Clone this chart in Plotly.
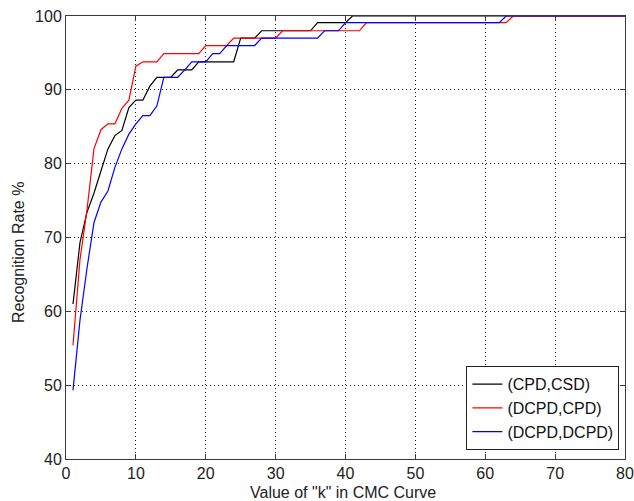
import plotly.graph_objects as go

k_values = list(range(1, 81))

cpd_csd = [61.0, 69.3, 73.4, 76.0, 79.0, 82.0, 83.8, 84.5, 87.6, 88.6,
           88.6, 90.5, 91.7, 91.7, 91.7, 92.7, 92.7, 92.7, 93.8, 93.8,
           93.8, 93.8, 93.8, 93.8, 97.0, 97.0, 97.0, 98.0, 98.0, 98.0,
           98.0, 98.0, 98.0, 98.0, 98.0, 99.1, 99.1, 99.1, 99.1, 99.1,
           100, 100, 100, 100, 100, 100, 100, 100, 100, 100,
           100, 100, 100, 100, 100, 100, 100, 100, 100, 100,
           100, 100, 100, 100, 100, 100, 100, 100, 100, 100,
           100, 100, 100, 100, 100, 100, 100, 100, 100, 100]

dcpd_cpd = [55.4, 67.0, 73.7, 82.0, 84.6, 85.4, 85.4, 87.5, 88.6, 93.2,
            93.8, 93.8, 93.8, 94.9, 94.9, 94.9, 94.9, 94.9, 94.9, 96.0,
            96.0, 96.0, 96.0, 97.0, 97.0, 97.0, 97.0, 97.0, 97.0, 97.0,
            98.0, 98.0, 98.0, 98.0, 98.0, 98.0, 98.0, 98.0, 98.0, 98.0,
            98.0, 98.0, 99.1, 99.1, 99.1, 99.1, 99.1, 99.1, 99.1, 99.1,
            99.1, 99.1, 99.1, 99.1, 99.1, 99.1, 99.1, 99.1, 99.1, 99.1,
            99.1, 99.1, 99.1, 100, 100, 100, 100, 100, 100, 100,
            100, 100, 100, 100, 100, 100, 100, 100, 100, 100]

dcpd_dcpd = [49.3, 58.8, 65.8, 72.0, 74.8, 76.3, 79.5, 82.0, 84.0, 85.4,
             86.5, 86.5, 87.8, 91.7, 91.7, 91.7, 92.7, 93.8, 93.8, 93.8,
             94.9, 94.9, 96.0, 96.0, 96.0, 96.0, 96.0, 97.0, 97.0, 97.0,
             97.0, 97.0, 97.0, 97.0, 97.0, 97.0, 98.0, 98.0, 98.0, 99.1,
             99.1, 99.1, 99.1, 99.1, 99.1, 99.1, 99.1, 99.1, 99.1, 99.1,
             99.1, 99.1, 99.1, 99.1, 99.1, 99.1, 99.1, 99.1, 99.1, 99.1,
             99.1, 99.1, 100, 100, 100, 100, 100, 100, 100, 100,
             100, 100, 100, 100, 100, 100, 100, 100, 100, 100]

series_names = ["(CPD,CSD)", "(DCPD,CPD)", "(DCPD,DCPD)"]
series_colors = ["#000000", "#ff0000", "#0000ff"]
series_values = [cpd_csd, dcpd_cpd, dcpd_dcpd]

x_ticks = [0, 10, 20, 30, 40, 50, 60, 70, 80]
y_ticks = [40, 50, 60, 70, 80, 90, 100]

x_title = 'Value of "k" in CMC Curve'
y_title = "Recognition Rate %"

font_family = "Liberation Sans, Arial, Helvetica, sans-serif"
text_color = "#222222"

fig = go.Figure()
for name, color, vals in zip(series_names, series_colors, series_values):
    fig.add_trace(go.Scatter(x=k_values, y=vals, mode="lines", name=name,
                             line=dict(color=color, width=1.2)))

axis_common = dict(
    showline=True, linecolor="#3a3a3a", linewidth=1, mirror="ticks",
    ticks="inside", ticklen=5, tickcolor="#3a3a3a",
    showgrid=True, gridcolor="#222222", gridwidth=1, griddash="1px,3px",
    zeroline=False, automargin=False, ticklabeloverflow="allow",
    tickfont=dict(family=font_family, size=16, color=text_color),
)

fig.update_xaxes(range=[0, 80], tickvals=x_ticks, **axis_common)
fig.update_yaxes(range=[40, 100], tickvals=y_ticks, **axis_common)

fig.add_annotation(text=x_title, xref="paper", yref="paper", x=0.495, y=0,
                   yshift=-33, xanchor="center", yanchor="middle", showarrow=False,
                   font=dict(family=font_family, size=16, color=text_color))
fig.add_annotation(text=y_title, xref="paper", yref="paper", x=0, y=0.465,
                   xshift=-48, xanchor="center", yanchor="middle", showarrow=False,
                   textangle=-90,
                   font=dict(family=font_family, size=16, color=text_color))

fig.update_layout(
    width=634, height=501,
    margin=dict(l=66, r=9, t=16, b=42),
    paper_bgcolor="white", plot_bgcolor="white",
    font=dict(family=font_family, size=16, color=text_color),
    legend=dict(x=0.99, y=0.02, xanchor="right", yanchor="bottom",
                bgcolor="white", bordercolor="#222222", borderwidth=1,
                font=dict(family=font_family, size=16, color="#111111"),
                tracegroupgap=0, itemwidth=30),
    showlegend=True,
)

fig.write_html(
    "out.html",
    config={"displayModeBar": False},
    post_script="document.body.style.margin='0px';document.body.style.overflow='hidden';",
)
